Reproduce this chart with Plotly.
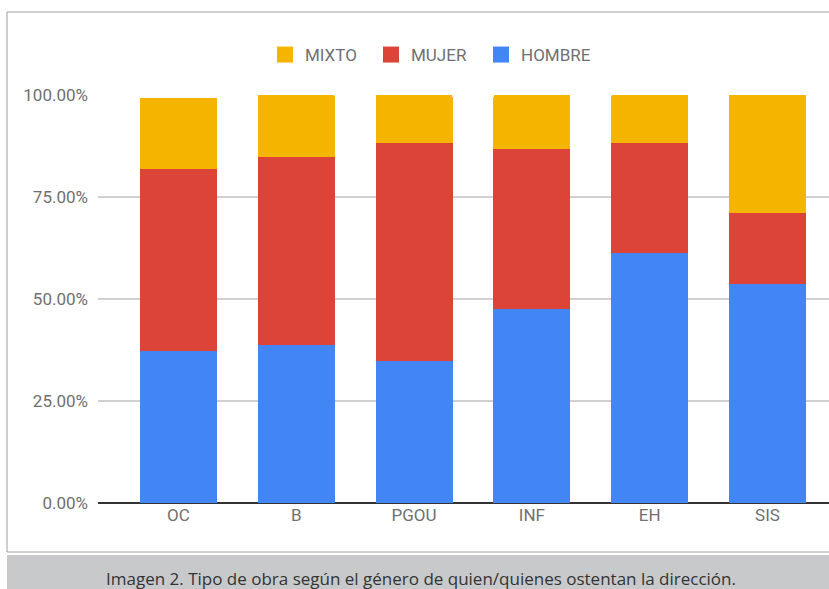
import plotly.graph_objects as go

# Share of each project type by gender of the direction (percent)
categories = ["OC", "B", "PGOU", "INF", "EH", "SIS"]
hombre = [37.25, 38.7, 34.8, 47.5, 61.3, 53.75]
mujer = [44.5, 46.0, 53.5, 39.3, 27.0, 17.35]
mixto = [17.6, 15.3, 11.7, 13.2, 11.7, 28.9]

series = [
    ("HOMBRE", hombre, "#4285F4"),
    ("MUJER", mujer, "#DB4437"),
    ("MIXTO", mixto, "#F4B400"),
]

W, H = 829, 589
L, R, T, B = 98, 0, 95, 86
PW, PH = W - L - R, H - T - B
FONT = "Roboto, sans-serif"
TEXT = "#707070"


def px(x):
    return (x - L) / PW


def py(y):
    return (H - B - y) / PH


fig = go.Figure()
for name, vals, color in series:
    fig.add_trace(go.Bar(
        x=categories, y=[v / 100 for v in vals], name=name,
        marker=dict(color=color, line=dict(width=0)),
        showlegend=False,
    ))

# one legend box per entry (top segment first), each with a larger square swatch
legend_ids = ["legend", "legend2", "legend3"]
legend_left = [265, 371, 481]
legend_cfg = {}
for (name, vals, color), lid, left in zip(reversed(series), legend_ids, legend_left):
    fig.add_trace(go.Scatter(
        x=[None], y=[None], mode="markers", name=name, legend=lid,
        marker=dict(symbol="square", size=16, color=color),
        showlegend=True,
    ))
    legend_cfg[lid] = dict(
        orientation="h", x=px(left), y=py(55), xanchor="left", yanchor="middle",
        font=dict(family=FONT, size=17, color=TEXT), bgcolor="rgba(0,0,0,0)",
    )

fig.update_layout(
    width=W, height=H,
    margin=dict(l=L, r=R, t=T, b=B, pad=0),
    barmode="stack", bargap=0.346, barcornerradius=2,
    paper_bgcolor="white", plot_bgcolor="white",
    font=dict(family=FONT, size=17, color=TEXT),
    xaxis=dict(
        type="category", range=[-0.683, 5.522], showgrid=False,
        showline=False, zeroline=False, ticks="",
        tickfont=dict(family=FONT, size=17, color=TEXT),
    ),
    yaxis=dict(
        range=[0, 1], tickvals=[0, 0.25, 0.5, 0.75, 1], tickformat=".2%",
        showgrid=True, gridcolor="#d0d0d0", gridwidth=1.5,
        zeroline=True, zerolinecolor="#333333", zerolinewidth=2,
        showline=False, ticks="", ticklabelstandoff=9,
        tickfont=dict(family=FONT, size=17, color=TEXT),
    ),
    shapes=[
        dict(type="rect", xref="paper", yref="paper",
             x0=px(7), x1=px(W + 5), y0=py(552), y1=py(12),
             line=dict(color="#9e9e9e", width=1), fillcolor="rgba(0,0,0,0)",
             layer="below"),
        dict(type="rect", xref="paper", yref="paper",
             x0=px(7), x1=px(W + 5), y0=py(H + 5), y1=py(555),
             line=dict(width=0), fillcolor="#c8c9cb", layer="below"),
    ],
    annotations=[
        dict(text="Imagen 2. Tipo de obra según el género de quien/quienes ostentan la dirección.",
             xref="paper", yref="paper", x=px(421), y=py(578),
             xanchor="center", yanchor="middle", showarrow=False,
             font=dict(family="Open Sans", size=17, color="#333333")),
    ],
    **legend_cfg,
)

fig.write_html("out.html")
